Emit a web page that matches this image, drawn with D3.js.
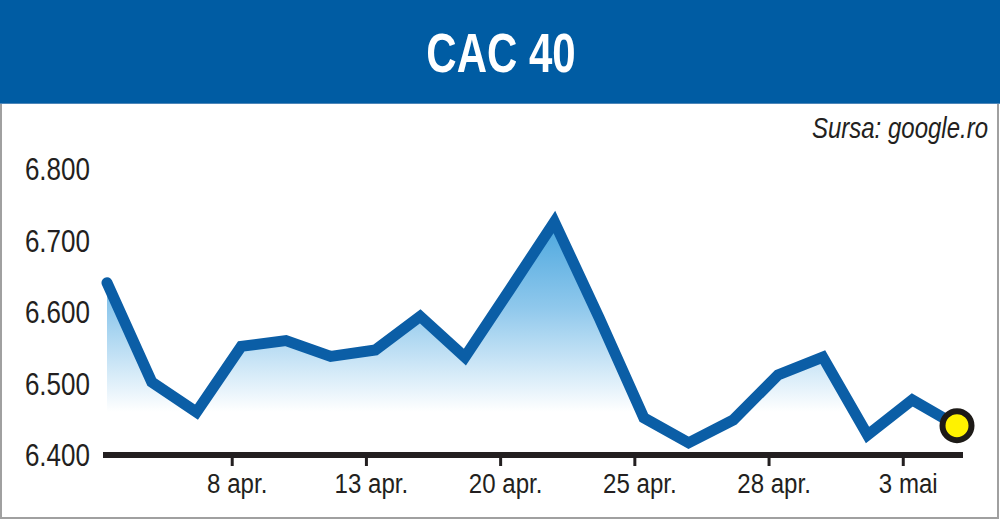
<!DOCTYPE html>
<html>
<head>
<meta charset="utf-8">
<script src="https://cdn.jsdelivr.net/npm/d3@7/dist/d3.min.js"></script>
<style>
  html, body { margin: 0; padding: 0; background: #fff; }
  svg { display: block; }
  text { font-family: "Liberation Sans", Arial, sans-serif; fill: #231f20; }
</style>
</head>
<body>
<svg id="chart" width="1000" height="521"></svg>
<script>
// ---- data ----
const title = "CAC 40";
const source = "Sursa: google.ro";
const dates = ["5 apr.","6 apr.","7 apr.","8 apr.","11 apr.","12 apr.","13 apr.","14 apr.","19 apr.","20 apr.",
               "21 apr.","22 apr.","25 apr.","26 apr.","27 apr.","28 apr.","29 apr.","2 mai","3 mai","4 mai"];
const values = [6641, 6502, 6460, 6552, 6560, 6538, 6547, 6594, 6537, 6631,
                6726, 6592, 6452, 6417, 6449, 6512, 6537, 6428, 6477, 6441];
const xTickLabels = ["8 apr.","13 apr.","20 apr.","25 apr.","28 apr.","3 mai"];
const yTicks = [6400, 6500, 6600, 6700, 6800];

const svg = d3.select("#chart");
const W = 1000, H = 521;

// helper: condensed text drawn with a horizontal scale
function ctext(sel, tx, ty, sx) {
  return sel.attr("x", 0).attr("y", 0)
    .attr("transform", `translate(${tx},${ty}) scale(${sx},1)`);
}

// frame
svg.append("rect").attr("x", 1).attr("y", 100).attr("width", W - 3).attr("height", H - 103)
  .attr("fill", "#fff").attr("stroke", "#a0a0a0").attr("stroke-width", 2);

// title bar
svg.append("rect").attr("x", 0).attr("y", 0).attr("width", W).attr("height", 104).attr("fill", "#005ca3");
svg.append("line").attr("x1", 0).attr("x2", W).attr("y1", 103.5).attr("y2", 103.5)
  .attr("stroke", "#4d86b8").attr("stroke-width", 1);
ctext(svg.append("text"), 501, 72, 0.75).attr("text-anchor", "middle")
  .attr("font-size", 56).attr("font-weight", "bold").style("fill", "#fff")
  .text(title);

// source
ctext(svg.append("text"), 988, 138, 0.8).attr("text-anchor", "end")
  .attr("font-size", 30).attr("font-style", "italic")
  .text(source);

// scales
const x = d3.scaleLinear().domain([0, dates.length - 1]).range([107, 957]);
const y = d3.scaleLinear().domain([6400, 6800]).range([455, 169]);

// gradient
const defs = svg.append("defs");
const grad = defs.append("linearGradient").attr("id", "fillGrad")
  .attr("gradientUnits", "userSpaceOnUse").attr("x1", 0).attr("x2", 0).attr("y1", 222).attr("y2", 412);
grad.append("stop").attr("offset", 0).attr("stop-color", "#4aa6de");
grad.append("stop").attr("offset", 0.45).attr("stop-color", "#8fc8ec");
grad.append("stop").attr("offset", 1).attr("stop-color", "#ffffff");

const area = d3.area().x((d, i) => x(i)).y0(y(6400) - 40).y1(d => y(d));
svg.append("path").datum(values).attr("d", area).attr("fill", "url(#fillGrad)");

// y labels
svg.selectAll(".ylab").data(yTicks).enter().append("text")
  .attr("class", "ylab")
  .each(function (d) { ctext(d3.select(this), 90, y(d), 0.84); })
  .attr("dy", "0.36em").attr("text-anchor", "end").attr("font-size", 31)
  .text(d => d3.format(",")(d).replace(",", "."));

// x axis baseline
svg.append("line").attr("x1", 103).attr("x2", 963).attr("y1", y(6400)).attr("y2", y(6400))
  .attr("stroke", "#231f20").attr("stroke-width", 6);

// x ticks and labels
const tickIdx = xTickLabels.map(l => dates.indexOf(l));
svg.selectAll(".xt").data(tickIdx).enter().append("line")
  .attr("x1", d => x(d) - 9).attr("x2", d => x(d) - 9)
  .attr("y1", y(6400)).attr("y2", y(6400) + 11)
  .attr("stroke", "#231f20").attr("stroke-width", 3);
svg.selectAll(".xl").data(tickIdx).enter().append("text")
  .each(function (d) { ctext(d3.select(this), x(d) - 4, 493, 0.86); })
  .attr("text-anchor", "middle").attr("font-size", 28)
  .text(d => dates[d]);

// line
const line = d3.line().x((d, i) => x(i)).y(d => y(d));
svg.append("path").datum(values).attr("d", line)
  .attr("fill", "none").attr("stroke", "#0b5ea6").attr("stroke-width", 11)
  .attr("stroke-linejoin", "miter").attr("stroke-miterlimit", 10).attr("stroke-linecap", "round");

// end marker
const last = values.length - 1;
svg.append("circle").attr("cx", x(last)).attr("cy", y(values[last])).attr("r", 14.5)
  .attr("fill", "#fff200").attr("stroke", "#1d1a17").attr("stroke-width", 6);
</script>
</body>
</html>
